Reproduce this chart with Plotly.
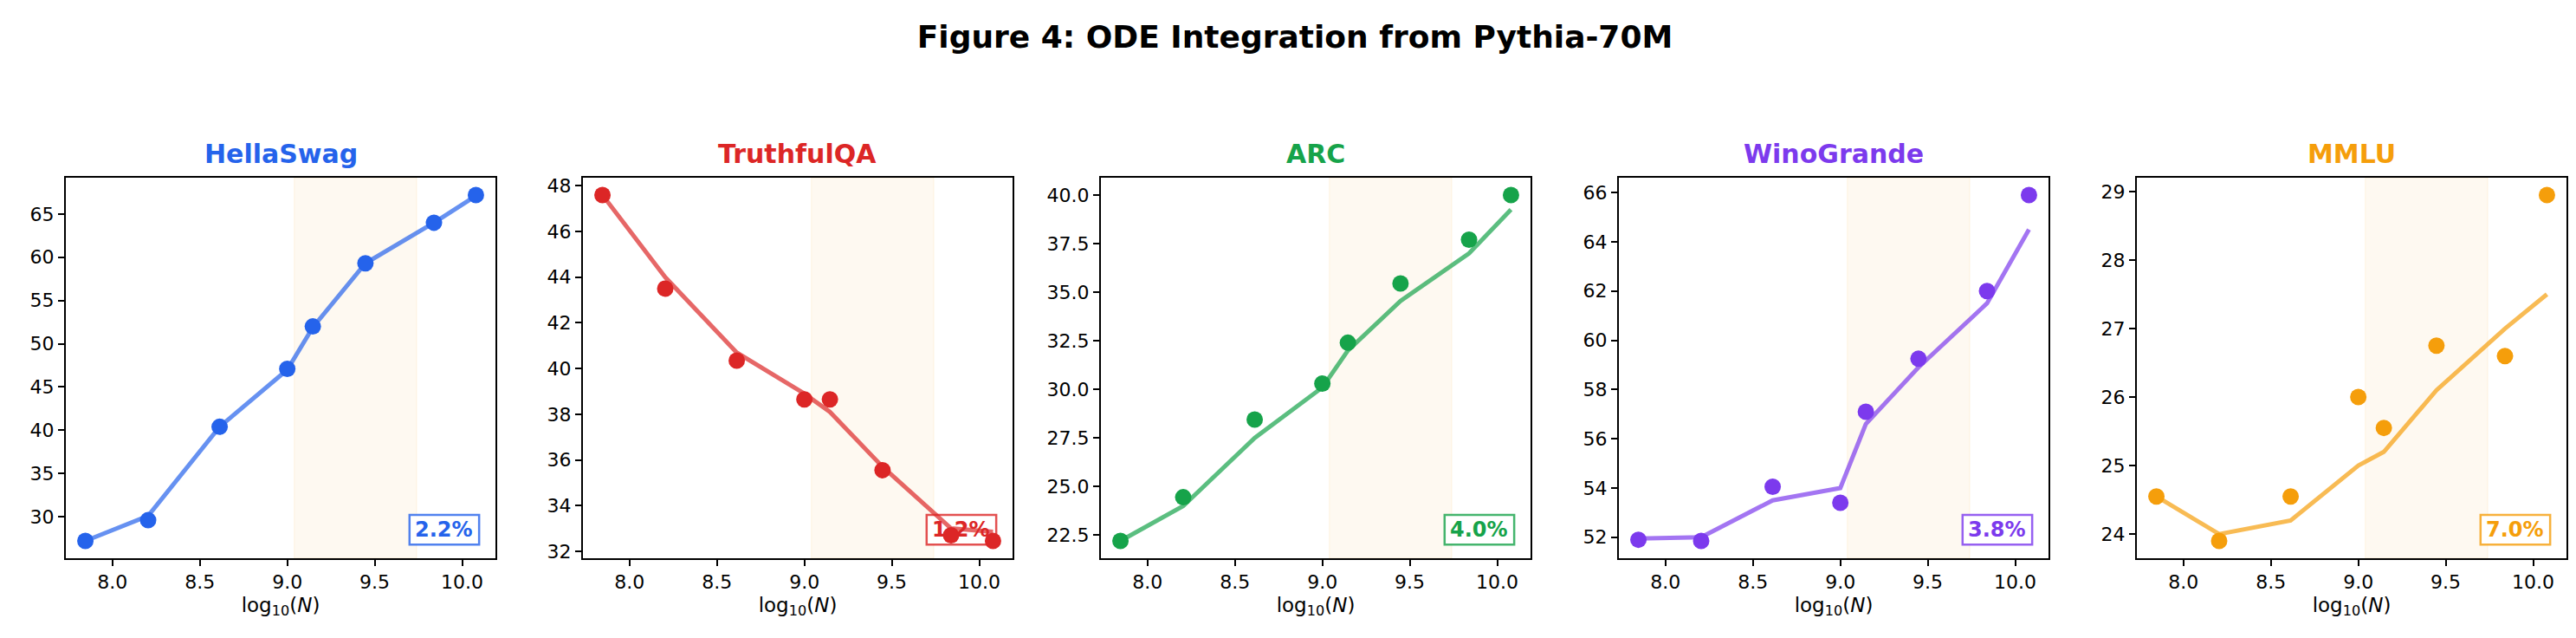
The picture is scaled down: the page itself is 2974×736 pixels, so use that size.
import plotly.graph_objects as go
from plotly.subplots import make_subplots

# model sizes (log10 of parameter count)
log_n = [7.845, 8.204, 8.613, 9.0, 9.146, 9.447, 9.839, 10.079]

benchmarks = ["HellaSwag", "TruthfulQA", "ARC", "WinoGrande", "MMLU"]
colors = ["#2563eb", "#dc2626", "#16a34a", "#7c3aed", "#f59e0b"]
line_colors = ["rgba(37,99,235,0.7)", "rgba(220,38,38,0.7)", "rgba(22,163,74,0.7)",
               "rgba(124,58,237,0.7)", "rgba(245,158,11,0.7)"]
border_colors = ["rgba(37,99,235,0.8)", "rgba(220,38,38,0.8)", "rgba(22,163,74,0.8)",
                 "rgba(124,58,237,0.8)", "rgba(245,158,11,0.8)"]

# observed scores
hellaswag_obs = [27.2, 29.6, 40.4, 47.1, 52.0, 59.3, 64.0, 67.2]
truthfulqa_obs = [47.6, 43.5, 40.35, 38.65, 38.65, 35.55, 32.7, 32.45]
arc_obs = [22.2, 24.45, 28.45, 30.3, 32.4, 35.45, 37.7, 40.0]
winogrande_obs = [51.9, 51.85, 54.05, 53.4, 57.1, 59.25, 62.0, 65.9]
mmlu_obs = [24.55, 23.9, 24.55, 26.0, 25.55, 26.75, 26.6, 28.95]

# ODE-integrated trajectories
hellaswag_ode = [27.2, 30.1, 40.4, 47.0, 51.9, 59.3, 64.0, 67.1]
truthfulqa_ode = [47.6, 44.0, 40.7, 38.9, 38.1, 35.7, 33.0, 32.85]
arc_ode = [22.2, 24.0, 27.5, 30.1, 32.0, 34.55, 37.0, 39.25]
winogrande_ode = [51.95, 52.0, 53.5, 54.0, 56.6, 58.9, 61.5, 64.5]
mmlu_ode = [24.55, 24.0, 24.2, 25.0, 25.2, 26.1, 27.0, 27.5]

errors = ["2.2%", "1.2%", "4.0%", "3.8%", "7.0%"]

ytick_step = [5, 2, 2.5, 2, 1]
ytick_fmt = [".0f", ".0f", ".1f", ".0f", ".0f"]

# shaded interpolation window
shade_lo, shade_hi = 9.04, 9.74

obs_all = [hellaswag_obs, truthfulqa_obs, arc_obs, winogrande_obs, mmlu_obs]
ode_all = [hellaswag_ode, truthfulqa_ode, arc_ode, winogrande_ode, mmlu_ode]

W, H = 2974, 736
fig = make_subplots(rows=1, cols=5)

lefts = [68, 665, 1263, 1861, 2459]
pw = 496
y_top, y_bot = 197, 636

xmin, xmax = min(log_n), max(log_n)
xpad = (xmax - xmin) * 0.05

# error box, in axes fractions
box_x0, box_x1 = 0.800, 0.962
box_y0, box_y1 = 0.036, 0.114

for i in range(5):
    col = i + 1
    fig.add_trace(go.Scatter(
        x=log_n, y=ode_all[i], mode="lines",
        line=dict(color=line_colors[i], width=5),
        showlegend=False, hoverinfo="skip"), row=1, col=col)
    fig.add_trace(go.Scatter(
        x=log_n, y=obs_all[i], mode="markers",
        marker=dict(color=colors[i], size=19, line=dict(width=0)),
        showlegend=False), row=1, col=col)

    lo = min(min(obs_all[i]), min(ode_all[i]))
    hi = max(max(obs_all[i]), max(ode_all[i]))
    pad = (hi - lo) * 0.05

    xa = "xaxis" if i == 0 else f"xaxis{col}"
    ya = "yaxis" if i == 0 else f"yaxis{col}"
    fig.layout[xa].update(
        domain=[lefts[i] / W, (lefts[i] + pw) / W],
        range=[xmin - xpad, xmax + xpad],
        tickvals=[8.0, 8.5, 9.0, 9.5, 10.0], tickformat=".1f",
        showgrid=False, zeroline=False, showline=True, mirror=True,
        linecolor="black", linewidth=2, ticks="outside", ticklen=7,
        tickwidth=1.8, tickcolor="black",
        tickfont=dict(size=22, color="black"),
        title=dict(text="log<sub>10</sub>(<i>N</i>)", font=dict(size=23, color="black"),
                   standoff=6),
        automargin=False)
    fig.layout[ya].update(
        domain=[1 - y_bot / H, 1 - y_top / H],
        range=[lo - pad, hi + pad],
        dtick=ytick_step[i], tickformat=ytick_fmt[i],
        showgrid=False, zeroline=False, showline=True, mirror=True,
        linecolor="black", linewidth=2, ticks="outside", ticklen=7,
        tickwidth=1.8, tickcolor="black",
        tickfont=dict(size=22, color="black"),
        automargin=False)

    xref = "x" if i == 0 else f"x{col}"
    yref = "y" if i == 0 else f"y{col}"
    fig.add_shape(type="rect", xref=xref, yref=f"{yref} domain",
                  x0=shade_lo, x1=shade_hi, y0=0, y1=1,
                  fillcolor="rgba(245,158,11,0.06)",
                  line=dict(color="rgba(245,158,11,0.10)", width=1), layer="below")

    # panel title
    fig.add_annotation(text=f"<b>{benchmarks[i]}</b>", xref="paper", yref="paper",
                       x=(lefts[i] + pw / 2) / W, y=1 - 170 / H,
                       xanchor="center", yanchor="middle", showarrow=False,
                       font=dict(size=30, color=colors[i]))
    # error box (kept under the markers, as in the original)
    fig.add_shape(type="rect", xref=f"{xref} domain", yref=f"{yref} domain",
                  x0=box_x0, x1=box_x1, y0=box_y0, y1=box_y1,
                  fillcolor="rgba(255,255,255,0.9)",
                  line=dict(color=border_colors[i], width=2.5), layer="below")
    fig.add_annotation(text=f"<b>{errors[i]}</b>", xref=f"{xref} domain", yref=f"{yref} domain",
                       x=(box_x0 + box_x1) / 2, y=(box_y0 + box_y1) / 2,
                       xanchor="center", yanchor="middle", showarrow=False,
                       font=dict(size=24, color=colors[i]))

fig.update_layout(
    width=W, height=H,
    margin=dict(l=0, r=0, t=0, b=0),
    paper_bgcolor="white", plot_bgcolor="white",
    font=dict(family="DejaVu Sans", color="black"),
    title=dict(text="<b>Figure 4: ODE Integration from Pythia-70M</b>",
               x=0.5, xanchor="center", y=1 - 34 / H, yanchor="middle",
               font=dict(size=36, color="black")),
)

fig.write_html("out.html")
